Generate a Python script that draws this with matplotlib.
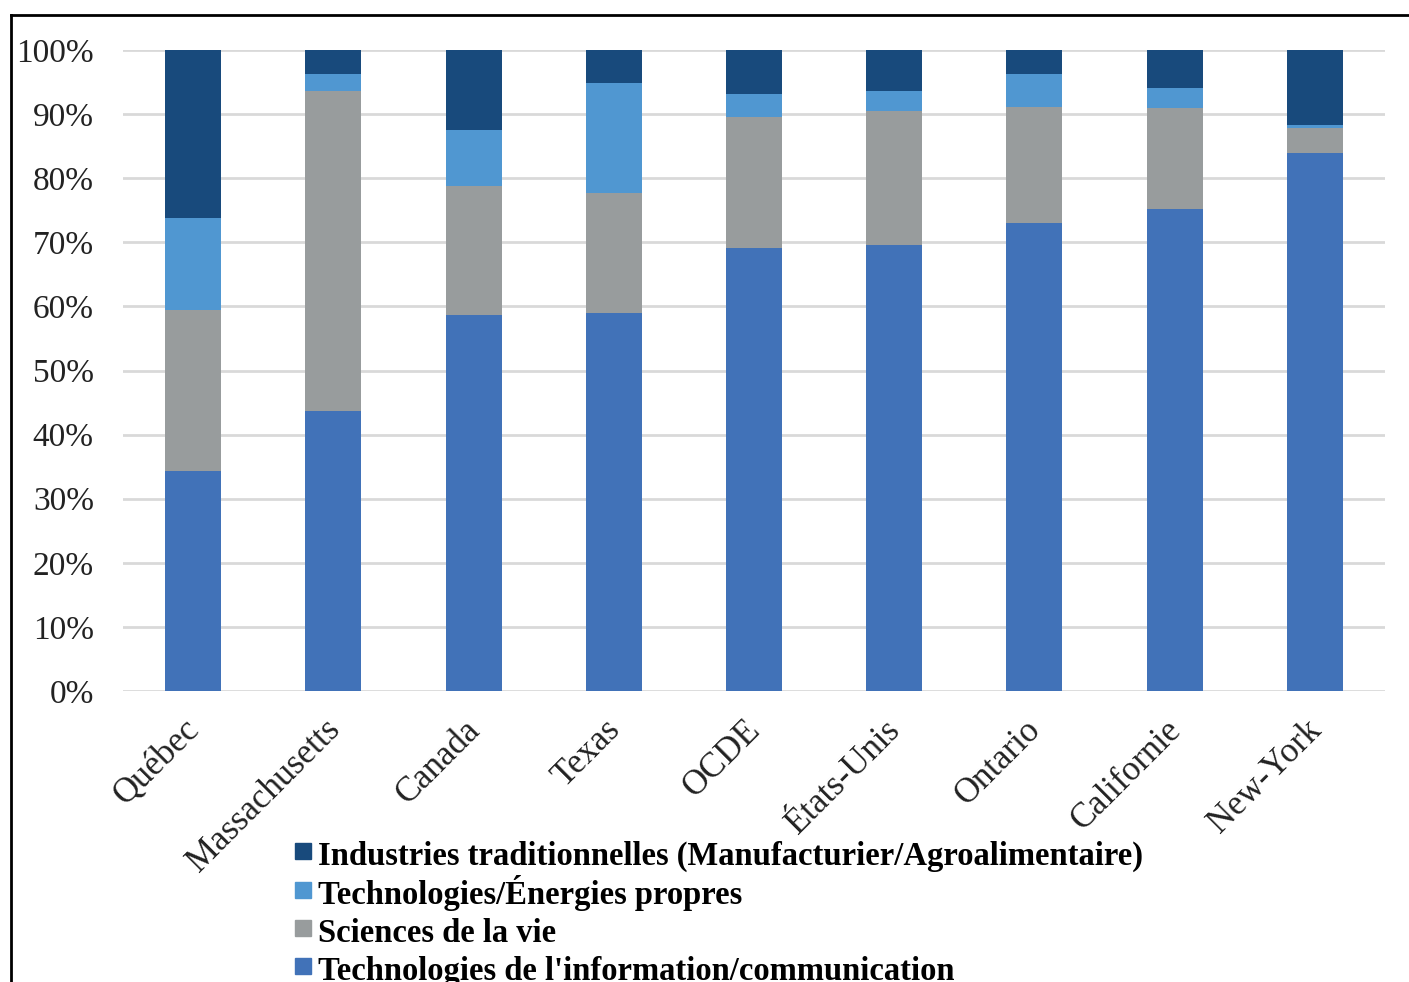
import matplotlib
matplotlib.use("Agg")
import matplotlib.pyplot as plt
import matplotlib.transforms as mtransforms
import numpy as np
from matplotlib.lines import Line2D
from matplotlib.ticker import PercentFormatter

# share of each sector (%), per region
regions = ["Québec", "Massachusetts", "Canada", "Texas", "OCDE",
           "États-Unis", "Ontario", "Californie", "New-York"]
tic = [34.3, 43.7, 58.7, 59.0, 69.1, 69.6, 73.0, 75.2, 83.9]
sciences = [25.1, 49.9, 20.1, 18.7, 20.4, 20.9, 18.1, 15.8, 3.9]
propres = [14.4, 2.7, 8.7, 17.2, 3.6, 3.1, 5.2, 3.1, 0.5]
traditionnelles = [26.2, 3.7, 12.5, 5.1, 6.9, 6.4, 3.7, 5.9, 11.7]

labels = ["Technologies de l'information/communication",
          "Sciences de la vie",
          "Technologies/Énergies propres",
          "Industries traditionnelles (Manufacturier/Agroalimentaire)"]
colors = ["#4172b8", "#989c9d", "#5097d1", "#184a7c"]

plt.rcParams["font.family"] = ["Liberation Serif", "DejaVu Serif"]

W, H = 1409, 982
fig = plt.figure(figsize=(W / 100, H / 100), dpi=100)
ax = fig.add_axes([123 / W, 1 - 691 / H, (1385 - 123) / W, (691 - 50) / H])

x = np.arange(len(regions))
bottom = np.zeros(len(regions))
for vals, col in zip([tic, sciences, propres, traditionnelles], colors):
    ax.bar(x, vals, width=0.4, bottom=bottom, color=col, zorder=3)
    bottom += np.array(vals)

ax.set_xlim(-0.5, len(regions) - 0.5)
ax.set_ylim(0, 100)
ax.set_yticks(np.arange(0, 101, 10))
ax.yaxis.set_major_formatter(PercentFormatter(decimals=0))
ax.grid(axis="y", color="#d9d9d9", linewidth=2, zorder=0)
for s in ax.spines.values():
    s.set_visible(False)
ax.tick_params(axis="both", length=0, colors="#222222")
ax.tick_params(axis="y", pad=21, labelsize=24)
ax.set_xticks(x)
ax.set_xticklabels(regions, rotation=45, ha="right", rotation_mode="anchor")
ax.tick_params(axis="x", pad=16, labelsize=25)

# nudge the slanted region names a little to the left
shift = mtransforms.ScaledTranslation(-0.1, 0, fig.dpi_scale_trans)
for lab in ax.get_xticklabels():
    lab.set_transform(lab.get_transform() + shift)

# legend, top entry first; square markers keep the rows evenly spaced
handles = [Line2D([], [], marker="s", linestyle="none", markersize=11.5, color=c)
           for c in colors[::-1]]
fig.legend(handles, labels[::-1], loc="upper left",
           bbox_to_anchor=(294 / W, 1 - 837 / H), frameon=False,
           prop={"weight": "bold", "size": 23.5}, handlelength=0.55,
           handleheight=1.18, handletextpad=0.2, labelspacing=0.1,
           borderpad=0, borderaxespad=0)

# outer frame
fig.add_artist(Line2D([11 / W, 1], [1 - 15 / H, 1 - 15 / H],
                      transform=fig.transFigure, color="black", linewidth=2))
fig.add_artist(Line2D([11 / W, 11 / W], [0, 1 - 15 / H],
                      transform=fig.transFigure, color="black", linewidth=2))

fig.savefig("out.png", dpi=100)
